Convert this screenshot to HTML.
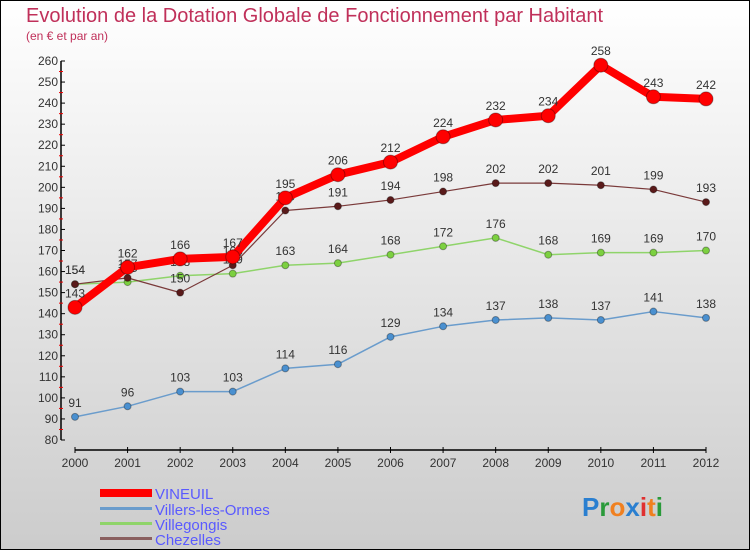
<!DOCTYPE html>
<html><head><meta charset="utf-8"><style>
body{margin:0;width:750px;height:550px;overflow:hidden;font-family:"Liberation Sans","DejaVu Sans",sans-serif}
svg{display:block}
</style></head><body>
<svg id="c" width="750" height="550" xmlns="http://www.w3.org/2000/svg">
<defs><linearGradient id="bg" x1="0" y1="0" x2="0" y2="1"><stop offset="0" stop-color="#ffffff"/><stop offset="1" stop-color="#cccccc"/></linearGradient></defs>
<rect x="0.5" y="0.5" width="749" height="549" fill="url(#bg)" stroke="#000"/>
<text x="26" y="22" font-size="20" fill="#c0305a">Evolution de la Dotation Globale de Fonctionnement par Habitant</text>
<text x="26" y="40" font-size="12" fill="#c0305a">(en € et par an)</text>
<g id="axes"></g><g id="series"></g>
<g>
<rect x="100" y="489" width="52" height="8" fill="#f00"/>
<text x="155" y="499" font-size="15" fill="#5a5aff">VINEUIL</text>
<rect x="100" y="507" width="52" height="3" fill="#6a9ccc"/>
<text x="155" y="515" font-size="15" fill="#5a5aff">Villers-les-Ormes</text>
<rect x="100" y="522" width="52" height="3" fill="#8fd46a"/>
<text x="155" y="530" font-size="15" fill="#5a5aff">Villegongis</text>
<rect x="100" y="537" width="52" height="3" fill="#8a6060"/>
<text x="155" y="545" font-size="15" fill="#5a5aff">Chezelles</text>
</g>
<text x="582" y="516" font-size="26" font-weight="bold"><tspan fill="#2a7fd0">P</tspan><tspan fill="#2a9a3a">r</tspan><tspan fill="#f08020">o</tspan><tspan fill="#2a7fd0">x</tspan><tspan fill="#e03030">i</tspan><tspan fill="#f08020">t</tspan><tspan fill="#2a9a3a">i</tspan></text>
</svg>
<script>
const years=[2000,2001,2002,2003,2004,2005,2006,2007,2008,2009,2010,2011,2012];
const yTicks=[80,90,100,110,120,130,140,150,160,170,180,190,200,210,220,230,240,250,260];
const vineuil=[143,162,166,167,195,206,212,224,232,234,258,243,242];
const villers=[91,96,103,103,114,116,129,134,137,138,137,141,138];
const villegongis=[154,155,158,159,163,164,168,172,176,168,169,169,170];
const chezelles=[154,157,150,163,189,191,194,198,202,202,201,199,193];
const NS="http://www.w3.org/2000/svg";
const xS=i=>75+i*(706-75)/12;
const yS=v=>440-(v-80)*(379/180);
function mk(t,a,p){const e=document.createElementNS(NS,t);for(const k in a)e.setAttribute(k,a[k]);p.appendChild(e);return e;}
const ax=document.getElementById('axes');
let yl=mk('line',{x1:61,y1:yS(260),x2:61,y2:440,stroke:'#000','stroke-width':1.5},ax);


let xl=mk('line',{x1:xS(0),y1:450,x2:xS(12),y2:450,stroke:'#000','stroke-width':1.5},ax);


yTicks.forEach((v,i)=>{
 mk('line',{x1:61,y1:yS(v),x2:65,y2:yS(v),stroke:'#000'},ax);
 if(i<yTicks.length-1)mk('line',{x1:59,y1:yS(v+5),x2:63,y2:yS(v+5),stroke:'#e00'},ax);
 const t=mk('text',{x:58,y:yS(v)+4,'font-size':12,'text-anchor':'end',fill:'#333'},ax);
 t.textContent=v;
 
 
});
years.forEach((y,i)=>{
 mk('line',{x1:xS(i),y1:447,x2:xS(i),y2:453,stroke:'#000'},ax);
 const t=mk('text',{x:xS(i),y:467,'font-size':12,'text-anchor':'middle',fill:'#333'},ax);
 t.textContent=y;
 
 
});
const sg=document.getElementById('series');
function draw(vals,col,w,r,name,dc){
 const g=mk('g',{},sg);
 
 
 const l=mk('polyline',{points:vals.map((v,i)=>xS(i)+','+yS(v)).join(' '),fill:'none',stroke:col,'stroke-width':w,'stroke-linejoin':'round'},g);
 
 
 vals.forEach((v,i)=>{
  const c=mk('circle',{cx:xS(i),cy:yS(v),r:r,fill:dc,stroke:'#00000055'},g);
  
  
  const t=mk('text',{x:xS(i),y:yS(v)-10,'font-size':12,'text-anchor':'middle',fill:'#333'},g);
  t.textContent=v;
  
  
 });
}
draw(villers,'#6a9ccc',1.5,3.5,'villers','#4a90d0');
draw(villegongis,'#8fd46a',1.5,3.5,'villegongis','#7cd040');
draw(chezelles,'#7a3a3a',1.2,3.5,'chezelles','#5a1a1a');
draw(vineuil,'#f00',8,7,'vineuil','#f00');
</script>
</body></html>
